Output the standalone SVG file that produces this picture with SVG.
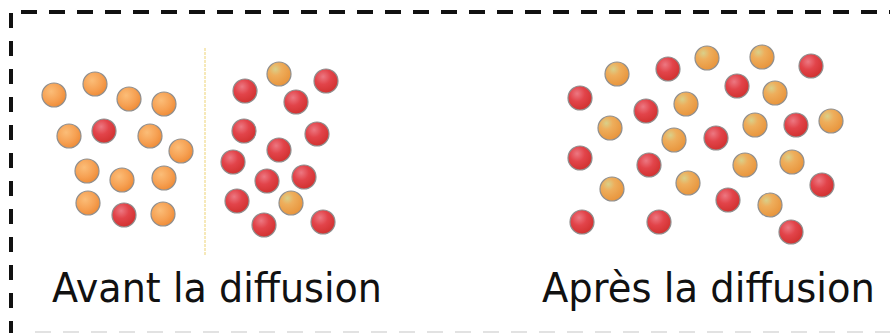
<svg xmlns="http://www.w3.org/2000/svg" width="890" height="333" viewBox="0 0 890 333">
  <defs>
    <radialGradient id="gO" cx="0.38" cy="0.35" r="0.7">
      <stop offset="0" stop-color="#fbbd78"/>
      <stop offset="0.6" stop-color="#f6a052"/>
      <stop offset="1" stop-color="#ee8a35"/>
    </radialGradient>
    <radialGradient id="gY" cx="0.35" cy="0.3" r="0.75">
      <stop offset="0" stop-color="#d9d08a"/>
      <stop offset="0.35" stop-color="#eeae5c"/>
      <stop offset="1" stop-color="#e8933a"/>
    </radialGradient>
    <radialGradient id="gR" cx="0.38" cy="0.32" r="0.72">
      <stop offset="0" stop-color="#ec7882"/>
      <stop offset="0.45" stop-color="#e2444a"/>
      <stop offset="1" stop-color="#d0302e"/>
    </radialGradient>
  </defs>
  <style>
    .o{fill:url(#gO);stroke:#8f8f8f;stroke-width:1.2}
    .y{fill:url(#gY);stroke:#8f8f8f;stroke-width:1.2}
    .r{fill:url(#gR);stroke:#8f8f8f;stroke-width:1.2}
    .lbl{font-family:"DejaVu Sans","Liberation Sans",sans-serif;font-size:40px;fill:#111}
  </style>
  <rect width="890" height="333" fill="#ffffff"/>
  <g id="border">
    <line x1="21" y1="12" x2="890" y2="12" stroke="#111" stroke-width="4" stroke-dasharray="16 12"/>
    <line x1="11" y1="13" x2="11" y2="333" stroke="#111" stroke-width="4" stroke-dasharray="15 13"/>
    <line x1="35" y1="332" x2="890" y2="332" stroke="#e2e2e2" stroke-width="2" stroke-dasharray="16 12"/>
  </g>
  <g id="divider">
    <line x1="205" y1="48" x2="205" y2="255" stroke="#f3e2a4" stroke-width="1.5" stroke-dasharray="3 1"/>
  </g>
  <g id="avant-gauche">
    <circle class="o" cx="54" cy="95" r="12"/>
    <circle class="o" cx="95" cy="84" r="12"/>
    <circle class="o" cx="129" cy="99" r="12"/>
    <circle class="o" cx="164" cy="104" r="12"/>
    <circle class="o" cx="69" cy="136" r="12"/>
    <circle class="r" cx="104" cy="131" r="12"/>
    <circle class="o" cx="150" cy="136" r="12"/>
    <circle class="o" cx="181" cy="151" r="12"/>
    <circle class="o" cx="87" cy="171" r="12"/>
    <circle class="o" cx="122" cy="180" r="12"/>
    <circle class="o" cx="164" cy="178" r="12"/>
    <circle class="o" cx="88" cy="203" r="12"/>
    <circle class="r" cx="124" cy="215" r="12"/>
    <circle class="o" cx="163" cy="214" r="12"/>
  </g>
  <g id="avant-droite">
    <circle class="r" cx="245" cy="91" r="12"/>
    <circle class="y" cx="279" cy="74" r="12"/>
    <circle class="r" cx="326" cy="81" r="12"/>
    <circle class="r" cx="296" cy="102" r="12"/>
    <circle class="r" cx="244" cy="131" r="12"/>
    <circle class="r" cx="317" cy="134" r="12"/>
    <circle class="r" cx="279" cy="150" r="12"/>
    <circle class="r" cx="233" cy="162" r="12"/>
    <circle class="r" cx="267" cy="181" r="12"/>
    <circle class="r" cx="304" cy="177" r="12"/>
    <circle class="r" cx="237" cy="201" r="12"/>
    <circle class="y" cx="291" cy="203" r="12"/>
    <circle class="r" cx="264" cy="225" r="12"/>
    <circle class="r" cx="323" cy="222" r="12"/>
  </g>
  <g id="apres">
    <circle class="y" cx="617" cy="74" r="12"/>
    <circle class="r" cx="668" cy="69" r="12"/>
    <circle class="y" cx="707" cy="58" r="12"/>
    <circle class="r" cx="580" cy="98" r="12"/>
    <circle class="r" cx="646" cy="111" r="12"/>
    <circle class="y" cx="686" cy="104" r="12"/>
    <circle class="y" cx="610" cy="128" r="12"/>
    <circle class="y" cx="674" cy="140" r="12"/>
    <circle class="r" cx="580" cy="158" r="12"/>
    <circle class="r" cx="649" cy="165" r="12"/>
    <circle class="y" cx="612" cy="189" r="12"/>
    <circle class="y" cx="688" cy="183" r="12"/>
    <circle class="r" cx="582" cy="222" r="12"/>
    <circle class="r" cx="659" cy="222" r="12"/>
    <circle class="y" cx="762" cy="57" r="12"/>
    <circle class="r" cx="811" cy="66" r="12"/>
    <circle class="r" cx="737" cy="86" r="12"/>
    <circle class="y" cx="775" cy="93" r="12"/>
    <circle class="y" cx="755" cy="125" r="12"/>
    <circle class="r" cx="796" cy="125" r="12"/>
    <circle class="y" cx="831" cy="121" r="12"/>
    <circle class="r" cx="716" cy="138" r="12"/>
    <circle class="y" cx="745" cy="165" r="12"/>
    <circle class="y" cx="792" cy="162" r="12"/>
    <circle class="r" cx="822" cy="185" r="12"/>
    <circle class="r" cx="728" cy="200" r="12"/>
    <circle class="y" cx="770" cy="205" r="12"/>
    <circle class="r" cx="791" cy="232" r="12"/>
  </g>
  <g id="labels">
    <text class="lbl" x="52" y="302" textLength="330" lengthAdjust="spacingAndGlyphs">Avant la diffusion</text>
    <text class="lbl" x="542" y="302" textLength="333" lengthAdjust="spacingAndGlyphs">Après la diffusion</text>
  </g>
</svg>
